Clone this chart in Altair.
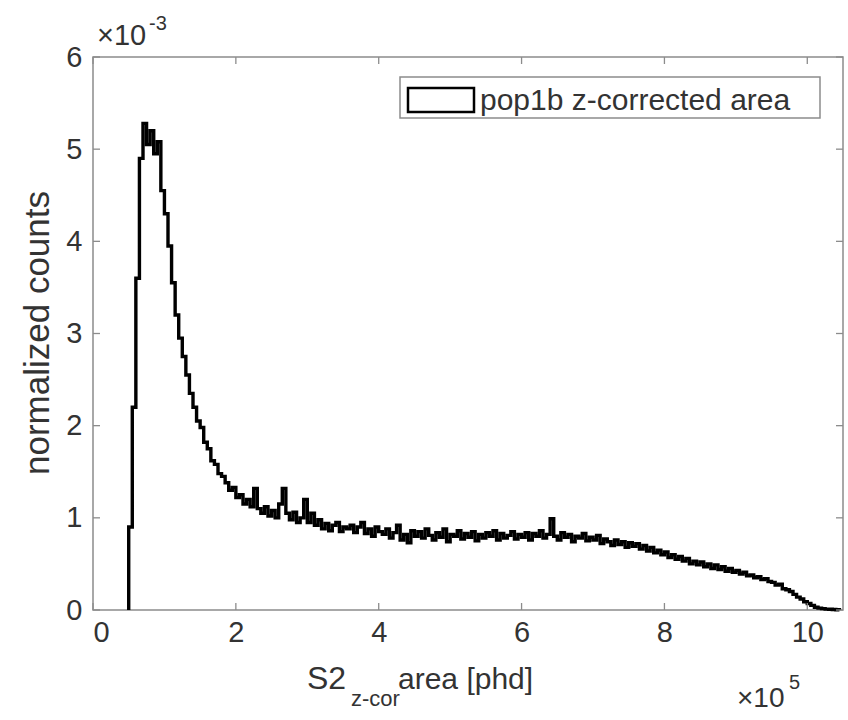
import altair as alt
import pandas as pd

# ---- data (normalized counts in units of 1e-3, bins of 5000 phd starting at 50000 phd)
bin_start = 50000
bin_width = 5000
counts_e3 = [
    0.9, 2.2, 3.6, 4.9, 5.28, 5.05, 5.2, 4.95, 5.08, 4.55,
    4.3, 3.95, 3.55, 3.2, 2.95, 2.75, 2.55, 2.35, 2.2, 2.05,
    1.98, 1.82, 1.75, 1.62, 1.58, 1.48, 1.45, 1.38, 1.30, 1.33,
    1.22, 1.25, 1.15, 1.20, 1.12, 1.32, 1.10, 1.05, 1.12, 1.02,
    1.08, 1.00, 1.15, 1.32, 1.05, 0.98, 1.06, 0.95, 1.00, 1.20,
    0.95, 1.05, 0.92, 0.98, 0.88, 0.94, 0.86, 0.92, 0.95, 0.85,
    0.90, 0.88, 0.92, 0.84, 0.90, 0.95, 0.83, 0.88, 0.80, 0.90,
    0.85, 0.82, 0.88, 0.78, 0.84, 0.92, 0.76, 0.82, 0.73, 0.86,
    0.80, 0.85, 0.78, 0.88, 0.81, 0.76, 0.84, 0.79, 0.88, 0.74,
    0.82, 0.80, 0.86, 0.77, 0.83, 0.79, 0.85, 0.75, 0.82, 0.78,
    0.84, 0.80, 0.86, 0.76, 0.83, 0.78, 0.81, 0.85, 0.77, 0.82,
    0.79, 0.84, 0.76, 0.83, 0.80, 0.86, 0.78, 0.82, 0.99, 0.80,
    0.76, 0.84, 0.79, 0.82, 0.74, 0.80, 0.78, 0.83, 0.75, 0.79,
    0.76, 0.81, 0.72, 0.77, 0.74, 0.70, 0.76, 0.71, 0.74, 0.68,
    0.73, 0.69, 0.72, 0.66, 0.70, 0.64, 0.68, 0.62, 0.65, 0.60,
    0.63, 0.57, 0.60, 0.55, 0.58, 0.53, 0.56, 0.50, 0.53, 0.49,
    0.52, 0.47, 0.50, 0.45, 0.49, 0.44, 0.47, 0.42, 0.45, 0.41,
    0.43, 0.39, 0.41, 0.37, 0.38, 0.35, 0.36, 0.33, 0.34, 0.31,
    0.30, 0.27, 0.28, 0.23, 0.22, 0.20, 0.17, 0.14, 0.12, 0.09,
    0.07, 0.05, 0.03, 0.02, 0.015, 0.01, 0.008, 0.005, 0.003,
]
x_ticks = [0, 200000, 400000, 600000, 800000, 1000000]
y_ticks = [0, 1, 2, 3, 4, 5, 6]
legend_label = "pop1b z-corrected area"

# ---- build stairs table (MATLAB histogram 'stairs' style)
edges = [bin_start + i * bin_width for i in range(len(counts_e3) + 1)]
rows = [{"x": edges[0], "y": 0.0}]
for e, c in zip(edges[:-1], counts_e3):
    rows.append({"x": e, "y": c})
rows.append({"x": edges[-1], "y": counts_e3[-1]})
rows.append({"x": edges[-1], "y": 0.0})
hist_df = pd.DataFrame(rows)

W, H = 750, 553
FONT = "Liberation Sans"
TXT = "#333333"
FRAME = "#8c8c8c"

xscale = alt.Scale(domain=[0, 1050000], nice=False, zero=False)
yscale = alt.Scale(domain=[0, 6], nice=False)

hist = alt.Chart(hist_df).mark_line(
    interpolate="step-after", color="black", strokeWidth=3.4, strokeJoin="miter"
).encode(
    x=alt.X("x:Q", scale=xscale, title=None,
            axis=alt.Axis(values=x_ticks, labelExpr="datum.value / 100000",
                          ticks=False, domain=False, grid=False,
                          labelFontSize=29, labelFont=FONT, labelColor=TXT,
                          labelPadding=8)),
    y=alt.Y("y:Q", scale=yscale, title=None,
            axis=alt.Axis(values=y_ticks, format="d", ticks=False, domain=False, grid=False,
                          labelFontSize=29, labelFont=FONT, labelColor=TXT,
                          labelPadding=11)),
)

xt_df = pd.DataFrame({"t": x_ticks})
yt_df = pd.DataFrame({"t": y_ticks})
tick_style = dict(color=FRAME, strokeWidth=1.3)
xt_bottom = alt.Chart(xt_df).mark_rule(**tick_style).encode(
    x=alt.X("t:Q", scale=xscale), y=alt.value(H), y2=alt.value(H - 7))
xt_top = alt.Chart(xt_df).mark_rule(**tick_style).encode(
    x=alt.X("t:Q", scale=xscale), y=alt.value(0), y2=alt.value(7))
yt_left = alt.Chart(yt_df).mark_rule(**tick_style).encode(
    y=alt.Y("t:Q", scale=yscale), x=alt.value(0), x2=alt.value(7))
yt_right = alt.Chart(yt_df).mark_rule(**tick_style).encode(
    y=alt.Y("t:Q", scale=yscale), x=alt.value(W), x2=alt.value(W - 7))

one = pd.DataFrame({"a": [0]})

leg_box = alt.Chart(one).mark_rect(fill="white", stroke=FRAME, strokeWidth=1.5).encode(
    x=alt.value(307), x2=alt.value(727), y=alt.value(20), y2=alt.value(61))
leg_icon = alt.Chart(one).mark_rect(fill="white", stroke="black", strokeWidth=2.5).encode(
    x=alt.value(315), x2=alt.value(381), y=alt.value(31), y2=alt.value(55))
leg_text = alt.Chart(one).mark_text(
    align="left", baseline="alphabetic", font=FONT, fontSize=30, color=TXT
).encode(x=alt.value(387), y=alt.value(53), text=alt.value(legend_label))


def txt(s, x, y, size, align="left", angle=0, baseline="alphabetic"):
    return alt.Chart(one).mark_text(
        align=align, baseline=baseline, font=FONT, fontSize=size, color=TXT, angle=angle
    ).encode(x=alt.value(x), y=alt.value(y), text=alt.value(s))


ytitle = txt("normalized counts", -55, 276, 35, align="center", angle=270, baseline="middle")
xt1 = txt("S2", 214, 632, 32)
xt2 = txt("z-cor", 258, 649, 22)
xt3 = txt("area [phd]", 305, 632, 30)
ex1 = txt("×10", 4, -12, 29)
ex2 = txt("-3", 56, -27, 20)
ex3 = txt("×10", 644, 650, 28)
ex4 = txt("5", 696, 632, 20)

chart = alt.layer(
    hist, xt_bottom, xt_top, yt_left, yt_right,
    leg_box, leg_icon, leg_text,
    ytitle, xt1, xt2, xt3, ex1, ex2, ex3, ex4,
).properties(
    width=W, height=H,
    autosize=alt.AutoSizeParams(type="none"),
    padding={"left": 93, "top": 57, "right": 5, "bottom": 110},
    background="white",
).configure_view(stroke=FRAME, strokeWidth=1.5)

chart.save("out.html", embed_options={"renderer": "svg", "actions": False})
